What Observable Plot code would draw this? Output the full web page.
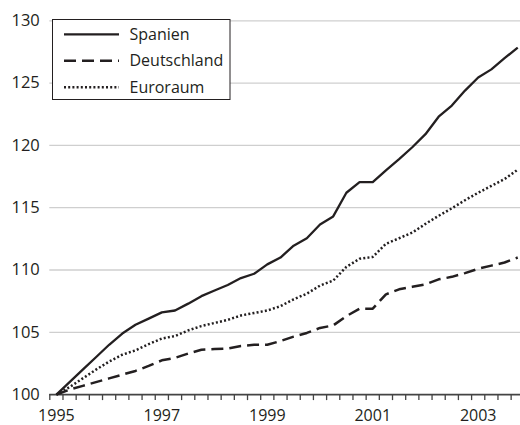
<!DOCTYPE html>
<html><head><meta charset="utf-8">
<script src="https://cdn.jsdelivr.net/npm/d3@7"></script>
<script src="https://cdn.jsdelivr.net/npm/@observablehq/plot@0.6"></script>
<style>body{margin:0;background:#fff} #chart{width:520px;height:425px}</style>
</head><body><div id="chart"></div>
<script>
// Quarterly index, 1995 Q1 = 100
const quarterTimes = d3.range(36).map(k => 1995 + k / 4);
const spanien = [100, 101.0, 102.0, 103.0, 104.0, 104.9, 105.6, 106.1, 106.6, 106.75, 107.3, 107.9,
  108.35, 108.8, 109.35, 109.7, 110.45, 111.0, 111.95, 112.55, 113.65, 114.3, 116.2, 117.05,
  117.05, 118.0, 118.9, 119.85, 120.9, 122.3, 123.2, 124.4, 125.45, 126.1, 127.0, 127.85];
const deutschland = [100, 100.4, 100.7, 101.0, 101.3, 101.6, 101.9, 102.3, 102.75, 102.95, 103.3, 103.6,
  103.65, 103.7, 103.9, 104.0, 104.0, 104.3, 104.65, 104.95, 105.35, 105.55, 106.3, 106.9,
  106.9, 108.05, 108.45, 108.65, 108.85, 109.25, 109.45, 109.75, 110.1, 110.35, 110.6, 111.0];
const euroraum = [100, 100.6, 101.3, 102.0, 102.65, 103.2, 103.55, 104.05, 104.5, 104.7, 105.15, 105.5,
  105.75, 106.0, 106.35, 106.55, 106.75, 107.1, 107.65, 108.1, 108.75, 109.15, 110.25, 110.9,
  111.05, 112.1, 112.55, 113.0, 113.7, 114.35, 114.95, 115.6, 116.2, 116.75, 117.3, 118.05];
const seriesNames = ["Spanien", "Deutschland", "Euroraum"];
const yTicks = [100, 105, 110, 115, 120, 125, 130];
const yearLabels = [1995, 1997, 1999, 2001, 2003];

const dashes = {Spanien: null, Deutschland: "12,6", Euroraum: "2,2.2"};
const widths = {Spanien: 2.3, Deutschland: 2.5, Euroraum: 2.5};
const ink = "#231f20";
const toRows = vals => vals.map((v, i) => ({t: quarterTimes[i], v}));
const seriesData = {Spanien: toRows(spanien), Deutschland: toRows(deutschland), Euroraum: toRows(euroraum)};
const tickBounds = quarterTimes.map(t => t - 0.125);

const plot = Plot.plot({
  width: 520, height: 425,
  marginLeft: 49.3, marginRight: 0, marginTop: 20.3, marginBottom: 30.9,
  style: {fontFamily: "'Open Sans', sans-serif", fontSize: "16.5px", color: ink, background: "#fff"},
  x: {type: "linear", domain: [1994.875, 2003.8025]},
  y: {domain: [100, 130]},
  marks: [
    Plot.ruleY(yTicks.filter(v => v > 100), {stroke: "#cfcfcf", strokeWidth: 1.3}),
    Plot.axisY({ticks: yTicks, tickSize: 0, tickPadding: 10, tickFormat: d => String(d), label: null}),
    Plot.ruleY([100], {stroke: "#444", strokeWidth: 1.6}),
    Plot.axisX({ticks: tickBounds, tickSize: 6, tickFormat: () => "", stroke: "#444", strokeWidth: 1.3, label: null}),
    Plot.axisX({ticks: yearLabels, tickSize: 0, tickPadding: 15.5, tickFormat: d => String(d), label: null, fontSize: 16}),
    ...seriesNames.map(name => Plot.line(seriesData[name], {
      x: "t", y: "v", stroke: ink,
      strokeWidth: widths[name],
      strokeDasharray: dashes[name],
      strokeLinecap: "butt", strokeLinejoin: "round"
    }))
  ]
});
document.getElementById("chart").appendChild(plot);

// Legend box (inside plot area)
const svg = d3.select(plot);
const lg = svg.append("g").attr("font-family", "'Open Sans', sans-serif").attr("font-size", 16)
  .attr("fill", ink).attr("text-anchor", "start");
lg.append("rect").attr("x", 52.5).attr("y", 19.5).attr("width", 177.5).attr("height", 80)
  .attr("fill", "#fff").attr("stroke", ink).attr("stroke-width", 1);
const rowsY = [34.3, 60.7, 87.3];
seriesNames.forEach((name, i) => {
  lg.append("line").attr("x1", 64).attr("x2", 119).attr("y1", rowsY[i]).attr("y2", rowsY[i])
    .attr("stroke", ink).attr("stroke-width", widths[name])
    .attr("stroke-dasharray", dashes[name]);
  lg.append("text").attr("x", 129.5).attr("y", rowsY[i]).attr("dy", "0.35em")
    .attr("text-anchor", "start").text(name);
});
</script>
</body></html>
